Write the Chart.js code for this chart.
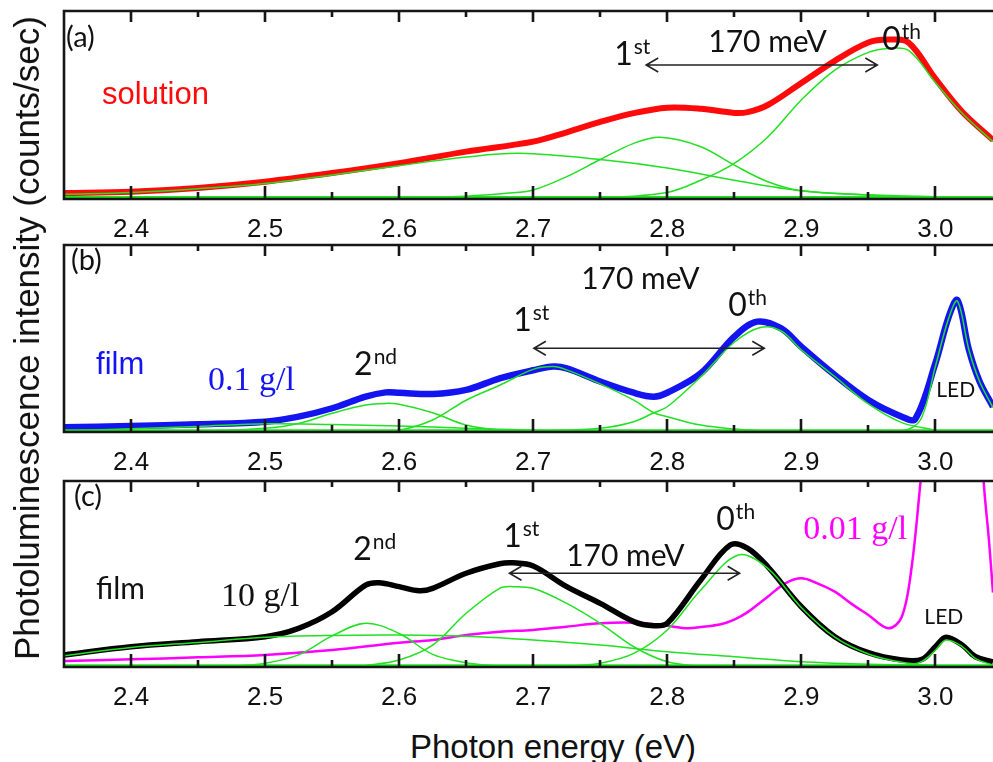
<!DOCTYPE html>
<html>
<head>
<meta charset="utf-8">
<script src="https://cdn.jsdelivr.net/npm/chart.js@4/dist/chart.umd.min.js"></script>
<style>
  html, body { margin:0; padding:0; background:#fff; }
  #wrap { position:relative; width:993px; height:762px; overflow:hidden; background:#fff; }
  #wrap canvas { position:absolute; left:0; }
  .title { position:absolute; font-family:"Liberation Sans", Arial, sans-serif; color:#111; white-space:nowrap; }
  #ytitle { left:27px; top:338px; font-size:35px; transform:translate(-50%,-50%) rotate(-90deg); }
  #xtitle { left:553px; top:747px; font-size:33px; transform:translate(-50%,-50%); }
</style>
</head>
<body>
<div id="wrap">
  <canvas id="pa" width="993" height="244" style="top:0px"></canvas>
  <canvas id="pb" width="993" height="244" style="top:234px"></canvas>
  <canvas id="pc" width="993" height="244" style="top:470px"></canvas>
  <div class="title" id="ytitle">Photoluminescence intensity (counts/sec)</div>
  <div class="title" id="xtitle">Photon energy (eV)</div>
</div>
<script>
// ─── axis ───
const X_MIN = 2.35, X_MAX = 3.043;
const TICK_LABELS = [2.4, 2.5, 2.6, 2.7, 2.8, 2.9, 3.0];
const MINOR_TICKS = [2.45, 2.55, 2.65, 2.75, 2.85, 2.95];

// ─── (a) solution ───
const A_RED_X   = [2.35, 2.40, 2.45, 2.50, 2.55, 2.60, 2.65, 2.70, 2.725, 2.75, 2.775, 2.80, 2.825, 2.85, 2.86, 2.875, 2.90, 2.925, 2.95, 2.965, 2.98, 3.00, 3.02, 3.043];
const A_RED_Y   = [3.2, 3.9, 5.9, 9.2, 13.8, 19.1, 25.2, 30.5, 35.5, 41, 45.7, 48.6, 48, 45.8, 46.2, 50, 61.7, 73.5, 83.2, 84.8, 83.2, 64, 46.4, 31.4];
const A_G0_X    = [2.70, 2.75, 2.80, 2.825, 2.85, 2.875, 2.90, 2.925, 2.95, 2.965, 2.98, 3.00, 3.02, 3.043];
const A_G0_Y    = [0.3, 0.7, 3.5, 10, 19, 33, 52.7, 68.6, 78, 80.1, 79, 62, 45.6, 30.5];
const A_G1_X    = [2.60, 2.65, 2.68, 2.70, 2.725, 2.75, 2.775, 2.795, 2.825, 2.85, 2.875, 2.90, 2.95, 3.00];
const A_G1_Y    = [0.5, 1.5, 3, 4.8, 11.9, 21, 29.6, 32.8, 27.8, 18, 9.2, 4.4, 2.1, 0.8];
const A_GB_X    = [2.35, 2.40, 2.45, 2.50, 2.55, 2.60, 2.65, 2.69, 2.75, 2.80, 2.85, 2.90, 2.95, 3.00, 3.043];
const A_GB_Y    = [2.5, 3.5, 5.5, 8.3, 12.8, 17.7, 22.3, 24.3, 21, 16.5, 10, 4.4, 2.2, 1.2, 0.6];

// ─── (b) film 0.1 g/l ───
const B_BLUE_X  = [2.35, 2.40, 2.45, 2.50, 2.525, 2.55, 2.575, 2.59, 2.60, 2.625, 2.65, 2.675, 2.70, 2.715, 2.725, 2.75, 2.775, 2.79, 2.80, 2.825, 2.85, 2.867, 2.885, 2.90, 2.925, 2.95, 2.975, 2.985, 3.00, 3.01, 3.0165, 3.025, 3.033, 3.043];
const B_BLUE_Y  = [2.5, 3.2, 4.1, 5.5, 8.2, 12.7, 18.9, 21.2, 21, 20.3, 22.5, 28.7, 33, 35, 34, 27, 21, 18.9, 21, 31.4, 51, 59, 55.4, 45.6, 30.5, 17.1, 8.2, 7, 36.7, 61.7, 70.5, 44, 27, 13.5];
const B_G2_X    = [2.45, 2.50, 2.525, 2.55, 2.575, 2.59, 2.60, 2.625, 2.65, 2.675, 2.70];
const B_G2_Y    = [0.3, 2, 4.6, 10, 14.4, 15.3, 14.8, 10.3, 3.7, 1, 0.3];
const B_G1_X    = [2.575, 2.60, 2.625, 2.65, 2.675, 2.70, 2.715, 2.725, 2.75, 2.775, 2.79, 2.80, 2.825, 2.85, 2.875];
const B_G1_Y    = [0.3, 1, 6.4, 17, 25, 33.5, 35, 33.2, 25.7, 17, 10.3, 8.2, 3.7, 1.6, 0.5];
const B_G0_X    = [2.70, 2.75, 2.775, 2.79, 2.80, 2.825, 2.85, 2.87, 2.885, 2.90, 2.925, 2.95, 2.975, 3.00];
const B_G0_Y    = [0.3, 2, 5.5, 10.3, 13.5, 29.6, 48, 56, 54, 44, 29.6, 15, 5, 1];
const B_GL_X    = [2.96, 2.98, 2.99, 3.00, 3.01, 3.0165, 3.025, 3.033, 3.043];
const B_GL_Y    = [0.3, 1.5, 8, 35, 61, 70, 44, 27, 13];
const B_GB_X    = [2.35, 2.45, 2.50, 2.55, 2.60, 2.65, 2.70, 2.80];
const B_GB_Y    = [0.5, 3, 4.4, 4, 3.2, 2, 1, 0.3];

// ─── (c) film 10 g/l and 0.01 g/l ───
const C_BLACK_X = [2.35, 2.40, 2.45, 2.50, 2.525, 2.55, 2.575, 2.585, 2.60, 2.615, 2.625, 2.65, 2.675, 2.685, 2.70, 2.725, 2.75, 2.775, 2.79, 2.80, 2.825, 2.847, 2.86, 2.875, 2.90, 2.925, 2.95, 2.975, 2.99, 3.00, 3.008, 3.02, 3.03, 3.043];
const C_BLACK_Y = [6.5, 10.9, 13.6, 16.3, 20.8, 29.7, 44, 45.3, 43.2, 41, 42.3, 50.4, 55.5, 56, 54.3, 43.2, 34.2, 24.4, 22.2, 23.5, 46.8, 65.6, 63.8, 53.9, 32.4, 16.3, 7.7, 3.8, 4.1, 10.9, 16, 11.8, 5.5, 2.8];
const C_MAG_X   = [2.35, 2.40, 2.45, 2.50, 2.55, 2.60, 2.625, 2.65, 2.675, 2.70, 2.725, 2.75, 2.775, 2.80, 2.815, 2.825, 2.84, 2.85, 2.86, 2.875, 2.888, 2.90, 2.912, 2.925, 2.937, 2.95, 2.965, 2.975, 2.982, 2.989, 3.00, 3.016, 3.03, 3.036, 3.04, 3.043];
const C_MAG_Y   = [3.2, 4.1, 5.2, 6.5, 9.1, 13, 14.5, 17.2, 19, 19.9, 21.7, 23.5, 23.8, 22.2, 20.8, 21.5, 23, 25.5, 29.5, 37.8, 45, 47.7, 45, 40.5, 34.2, 28, 20.8, 27, 52, 100, 180, 250, 180, 100, 68, 40];
const C_GB_X    = [2.35, 2.40, 2.45, 2.50, 2.55, 2.60, 2.65, 2.70, 2.75, 2.80, 2.85, 2.90, 2.95, 3.00];
const C_GB_Y    = [6, 10.5, 13.2, 16, 17, 17.2, 16.5, 14.5, 11.8, 8.2, 5.5, 2.8, 1.5, 0.8];
const C_G2_X    = [2.475, 2.50, 2.525, 2.55, 2.575, 2.60, 2.625, 2.65, 2.675];
const C_G2_Y    = [0.3, 2, 6.5, 16.7, 23.5, 18, 6.8, 2.3, 0.4];
const C_G1_X    = [2.575, 2.60, 2.625, 2.65, 2.675, 2.685, 2.70, 2.725, 2.75, 2.775, 2.80, 2.825, 2.85];
const C_G1_Y    = [0.8, 3.8, 11.8, 28.9, 42.3, 43.2, 42.3, 34.2, 23.5, 10.9, 2.8, 0.5, 0.2];
const C_G0_X    = [2.725, 2.75, 2.775, 2.80, 2.825, 2.853, 2.875, 2.90, 2.925, 2.95, 2.975, 3.00];
const C_G0_Y    = [0.5, 2, 7.3, 19.9, 41.4, 60.2, 53, 32, 16, 7, 2.5, 0.5];
const C_GL_X    = [2.975, 2.99, 3.00, 3.008, 3.02, 3.03, 3.043];
const C_GL_Y    = [0.3, 3, 9, 14.5, 11, 4.5, 1];

const BASE_X = [2.35, 3.043];
const BASE_Y = [0.6, 0.6];

const GREEN = '#22e022', RED = '#ff0a0a', BLUE = '#1414f0', MAGENTA = '#ff00ff', INK = '#161616';
const SANS  = '"Liberation Sans", Arial, sans-serif';
const HUMAN = 'Lato, "Open Sans", sans-serif';
const SERIF = '"Liberation Serif", "Times New Roman", serif';

const pts = (xs, ys) => xs.map((x, i) => ({ x, y: ys[i] }));

function line(xs, ys, color, width, order) {
  return { data: pts(xs, ys), borderColor: color, borderWidth: width, order,
           pointRadius: 0, fill: false, tension: 0.35, borderJoinStyle: 'round' };
}

// frame, inward ticks, labels and arrows drawn from the chart's own scales
const framePlugin = {
  id: 'frame',
  afterDraw(chart, args, opts) {
    const { ctx, chartArea: { left, right, top, bottom }, scales: { x, y } } = chart;
    ctx.save();
    ctx.strokeStyle = INK;
    ctx.lineWidth = 2.6;
    ctx.beginPath();
    ctx.moveTo(right + 2, top); ctx.lineTo(left, top); ctx.lineTo(left, bottom); ctx.lineTo(right + 2, bottom);
    ctx.stroke();
    const tick = (v, lt, lb) => {
      const px = Math.round(x.getPixelForValue(v));
      ctx.beginPath();
      ctx.moveTo(px, top); ctx.lineTo(px, top + lt);
      ctx.moveTo(px, bottom); ctx.lineTo(px, bottom - lb);
      ctx.stroke();
    };
    ctx.lineWidth = 2.6;
    TICK_LABELS.forEach(v => tick(v, 11, 13));
    MINOR_TICKS.forEach(v => tick(v, 6, 7));

    (opts.arrows || []).forEach(a => {
      const x1 = x.getPixelForValue(a.x1), x2 = x.getPixelForValue(a.x2), py = y.getPixelForValue(a.y);
      ctx.strokeStyle = '#222'; ctx.lineWidth = 1.6;
      ctx.beginPath();
      ctx.moveTo(x1, py); ctx.lineTo(x2, py);
      ctx.moveTo(x1 + 12, py - 7); ctx.lineTo(x1, py); ctx.lineTo(x1 + 12, py + 7);
      ctx.moveTo(x2 - 12, py - 7); ctx.lineTo(x2, py); ctx.lineTo(x2 - 12, py + 7);
      ctx.stroke();
    });

    ctx.textBaseline = 'middle';
    ctx.textAlign = 'left';
    (opts.labels || []).forEach(l => {
      const px = x.getPixelForValue(l.x), py = y.getPixelForValue(l.y);
      ctx.fillStyle = l.color || '#111';
      ctx.font = `${l.size}px ${l.family || HUMAN}`;
      ctx.fillText(l.text, px, py);
      if (l.sup) {
        const w = ctx.measureText(l.text).width;
        ctx.font = `${Math.round(l.size * 0.66)}px ${l.family || HUMAN}`;
        ctx.fillText(l.sup, px + w + 1, py - l.size * 0.24);
      }
    });
    ctx.restore();
  }
};

function makeChart(id, areaH, datasets, frame) {
  return new Chart(document.getElementById(id), {
    type: 'line',
    data: { datasets },
    plugins: [framePlugin],
    options: {
      responsive: false, animation: false, devicePixelRatio: 1,
      layout: { padding: { left: 64, top: 11, right: 0, bottom: 0 } },
      plugins: { legend: { display: false }, tooltip: { enabled: false }, frame },
      scales: {
        x: {
          type: 'linear', min: X_MIN, max: X_MAX,
          grid: { display: false, drawTicks: false }, border: { display: false },
          afterBuildTicks: s => { s.ticks = TICK_LABELS.map(v => ({ value: v })); },
          afterFit: s => { s.height = 244 - 11 - areaH; },
          ticks: { color: '#111', padding: 15, maxRotation: 0, autoSkip: false,
                   font: { family: SANS, size: 26 }, callback: v => v.toFixed(1) }
        },
        y: { display: false, min: 0, max: 100 }
      }
    }
  });
}

makeChart('pa', 188, [
  line(A_G0_X, A_G0_Y, GREEN, 1.5, 0),
  line(A_G1_X, A_G1_Y, GREEN, 1.5, 0),
  line(A_GB_X, A_GB_Y, GREEN, 1.5, 0),
  line(BASE_X, BASE_Y, GREEN, 3.5, 0),
  line(A_RED_X, A_RED_Y, RED, 6, 2)
], {
  labels: [
    { x: 2.3515, y: 85.6, text: '(a)', size: 29 },
    { x: 2.3784, y: 55.3, text: 'solution', size: 31, family: SANS, color: RED },
    { x: 2.8306, y: 83.5, text: '170 meV', size: 30 },
    { x: 2.7604, y: 76.6, text: '1', sup: 'st', size: 32 },
    { x: 2.9604, y: 84.6, text: '0', sup: 'th', size: 32 }
  ],
  arrows: [{ x1: 2.7843, x2: 2.9567, y: 71.3 }]
});

makeChart('pb', 187, [
  line(B_G2_X, B_G2_Y, GREEN, 1.5, 0),
  line(B_G1_X, B_G1_Y, GREEN, 1.5, 0),
  line(B_G0_X, B_G0_Y, GREEN, 1.5, 0),
  line(B_GL_X, B_GL_Y, GREEN, 1.5, 0),
  line(B_GB_X, B_GB_Y, GREEN, 1.5, 0),
  line(BASE_X, BASE_Y, GREEN, 3.5, 0),
  line(B_BLUE_X, B_BLUE_Y, BLUE, 6.5, 2)
], {
  labels: [
    { x: 2.3552, y: 91.4, text: '(b)', size: 29 },
    { x: 2.3739, y: 35.8, text: 'film', size: 31, family: SANS, color: BLUE },
    { x: 2.4575, y: 27.3, text: '0.1 g/l', size: 34, family: SERIF, color: BLUE },
    { x: 2.5664, y: 35.8, text: '2', sup: 'nd', size: 32 },
    { x: 2.7358, y: 81.8, text: '170 meV', size: 30 },
    { x: 2.6851, y: 59.4, text: '1', sup: 'st', size: 32 },
    { x: 2.8455, y: 67.4, text: '0', sup: 'th', size: 32 },
    { x: 3.0007, y: 22.5, text: 'LED', size: 21 }
  ],
  arrows: [{ x1: 2.7005, x2: 2.8724, y: 44.8 }]
});

makeChart('pc', 186, [
  line(C_GB_X, C_GB_Y, GREEN, 1.5, 0),
  line(C_G2_X, C_G2_Y, GREEN, 1.5, 0),
  line(C_G1_X, C_G1_Y, GREEN, 1.5, 0),
  line(C_G0_X, C_G0_Y, GREEN, 1.5, 0),
  line(C_GL_X, C_GL_Y, GREEN, 1.5, 0),
  line(BASE_X, BASE_Y, GREEN, 3.5, 0),
  line(C_BLACK_X, C_BLACK_Y, '#000', 5.5, 2),
  line(C_MAG_X, C_MAG_Y, MAGENTA, 2.5, 3)
], {
  labels: [
    { x: 2.3575, y: 91.4, text: '(c)', size: 29 },
    { x: 2.3739, y: 41.9, text: 'film', size: 30 },
    { x: 2.4672, y: 37.6, text: '10 g/l', size: 34, family: SERIF },
    { x: 2.5657, y: 62.9, text: '2', sup: 'nd', size: 32 },
    { x: 2.6776, y: 69.9, text: '1', sup: 'st', size: 32 },
    { x: 2.7246, y: 59.7, text: '170 meV', size: 30 },
    { x: 2.8366, y: 79.0, text: '0', sup: 'th', size: 32 },
    { x: 2.9015, y: 73.7, text: '0.01 g/l', size: 34, family: SERIF, color: MAGENTA },
    { x: 2.9918, y: 26.9, text: 'LED', size: 21 }
  ],
  arrows: [{ x1: 2.6823, x2: 2.8540, y: 50.4 }]
});
</script>
</body>
</html>
